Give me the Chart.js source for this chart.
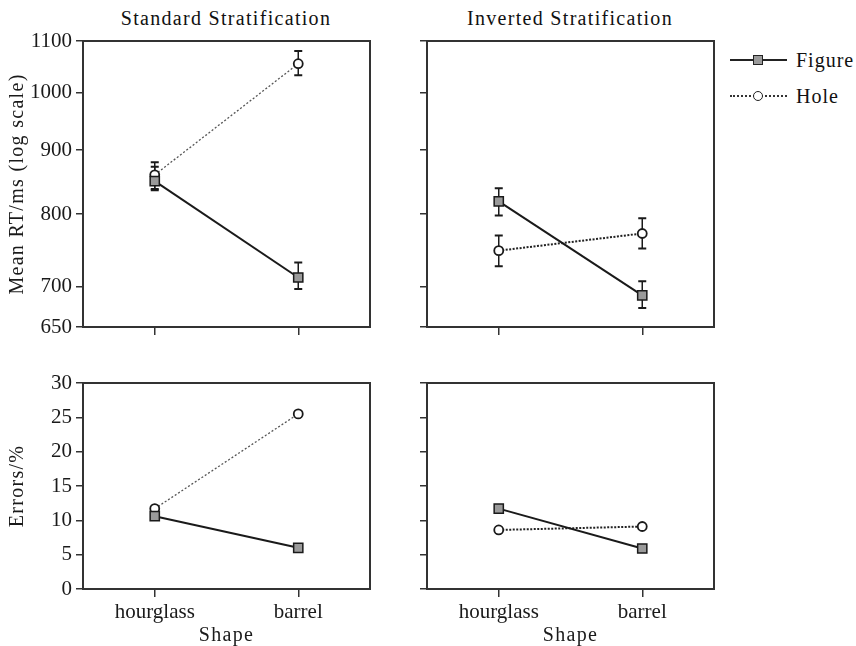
<!DOCTYPE html>
<html>
<head>
<meta charset="utf-8">
<script src="https://cdn.jsdelivr.net/npm/chart.js@4"></script>
<style>
  body { margin: 0; background: #fff; width: 856px; height: 646px; position: relative; overflow: hidden;
         font-family: "Liberation Serif", "Times New Roman", serif; color: #111; }
  canvas { position: absolute; }
  .ttl { position: absolute; font-size: 20px; line-height: 20px; letter-spacing: 1.3px; white-space: nowrap; transform: translateX(-50%); }
  .lg-text { position: absolute; font-size: 20px; line-height: 20px; letter-spacing: 1px; white-space: nowrap; }
  .lg-line { position: absolute; left: 730px; width: 57px; height: 0; }
  .lg-mark { position: absolute; box-sizing: border-box; width: 10px; height: 10px; }
</style>
</head>
<body>
<div class="ttl" style="left:226px; top:8px">Standard Stratification</div>
<div class="ttl" style="left:570px; top:8px">Inverted Stratification</div>
<div id="legend"></div>

<canvas id="rt-std" width="420" height="345" style="left:0; top:0"></canvas>
<canvas id="rt-inv" width="340" height="345" style="left:400px; top:0"></canvas>
<canvas id="err-std" width="420" height="286" style="left:0; top:360px"></canvas>
<canvas id="err-inv" width="340" height="286" style="left:400px; top:360px"></canvas>

<script>
const shapes = ['hourglass', 'barrel'];
const seriesNames = ['Figure', 'Hole'];
const rtTicks = [650, 700, 800, 900, 1000, 1100];

// mean RT in ms, with the ends of the error bars
const stdFigureRT = [850, 712];
const stdFigureRTLow = [838, 697];
const stdFigureRTHigh = [873, 732];
const stdHoleRT = [860, 1055];
const stdHoleRTLow = [836, 1033];
const stdHoleRTHigh = [880, 1080];

const invFigureRT = [819, 689];
const invFigureRTLow = [798, 673];
const invFigureRTHigh = [839, 707];
const invHoleRT = [748, 772];
const invHoleRTLow = [727, 751];
const invHoleRTHigh = [769, 794];

// errors in %
const stdFigureErr = [10.6, 6.0];
const stdHoleErr = [11.7, 25.5];
const invFigureErr = [11.7, 5.9];
const invHoleErr = [8.6, 9.1];

const INK = '#1a1a1a';
const FAMILY = '"Liberation Serif", "Times New Roman", serif';
const TICK_FONT = { family: FAMILY, size: 21 };
const TITLE_FONT = { family: FAMILY, size: 20, lineHeight: 1 };

function figureSet(data, low, high) {
  return {
    label: seriesNames[0], data, errLow: low, errHigh: high,
    borderColor: INK, borderWidth: 2,
    pointStyle: 'rect', pointRadius: 6.5, pointBackgroundColor: '#9a9a9a',
    pointBorderColor: INK, pointBorderWidth: 1.5
  };
}

// the hole line is a fine grey dotted line on the left panels, a heavier one on the right
function holeSet(data, low, high, heavy) {
  return {
    label: seriesNames[1], data, errLow: low, errHigh: high,
    borderColor: heavy ? '#222' : '#555', borderWidth: heavy ? 2 : 1.3,
    borderDash: heavy ? [2, 1.5] : [2, 2],
    pointStyle: 'circle', pointRadius: 4.5, pointBackgroundColor: '#fff',
    pointBorderColor: INK, pointBorderWidth: 1.8
  };
}

// error bars with caps, drawn under the markers
const errorBars = {
  id: 'errorBars',
  beforeDatasetsDraw(chart) {
    const { ctx, scales: { x, y } } = chart;
    ctx.save();
    ctx.strokeStyle = INK;
    chart.data.datasets.forEach(ds => {
      if (!ds.errLow) return;
      ds.data.forEach((v, j) => {
        const px = x.getPixelForValue(j);
        const lo = y.getPixelForValue(ds.errLow[j]);
        const hi = y.getPixelForValue(ds.errHigh[j]);
        ctx.lineWidth = 1.5;
        ctx.beginPath(); ctx.moveTo(px, lo); ctx.lineTo(px, hi); ctx.stroke();
        ctx.lineWidth = 2;
        ctx.beginPath();
        ctx.moveTo(px - 4, lo); ctx.lineTo(px + 4, lo);
        ctx.moveTo(px - 4, hi); ctx.lineTo(px + 4, hi);
        ctx.stroke();
      });
    });
    ctx.restore();
  }
};

// closed box round the plot area
const frame = {
  id: 'frame',
  afterDatasetsDraw(chart) {
    const { ctx, chartArea: a } = chart;
    ctx.save();
    ctx.strokeStyle = '#333';
    ctx.lineWidth = 2;
    ctx.strokeRect(a.left, a.top, a.right - a.left, a.bottom - a.top);
    ctx.restore();
  }
};

// the axis titles in the figure are slightly letter-spaced
const spacedTitles = {
  id: 'spacedTitles',
  afterLayout(chart) {
    Object.values(chart.scales).forEach(s => {
      if (s._spaced) return;
      const orig = s.drawTitle;
      s.drawTitle = function () {
        const prev = this.ctx.letterSpacing;
        this.ctx.letterSpacing = '1.3px';
        orig.call(this);
        this.ctx.letterSpacing = prev || '0px';
      };
      s._spaced = true;
    });
  }
};

function rtAxis(showLabels, width) {
  return {
    type: 'logarithmic', min: 650, max: 1100,
    afterBuildTicks: s => { s.ticks = rtTicks.map(v => ({ value: v })); },
    ticks: { autoSkip: false, font: TICK_FONT, color: INK, padding: 4, callback: v => showLabels ? String(v) : '' },
    grid: { drawOnChartArea: false, tickLength: 7, color: '#333', lineWidth: 1.5 },
    border: { display: false },
    title: { display: showLabels, text: 'Mean RT/ms (log scale)', font: TITLE_FONT, color: INK, padding: { top: 8, bottom: 0 } },
    afterFit: s => { s.width = width; }
  };
}

function errAxis(showLabels, width) {
  return {
    type: 'linear', min: 0, max: 30,
    ticks: { stepSize: 5, font: TICK_FONT, color: INK, padding: 4, callback: v => showLabels ? String(v) : '' },
    grid: { drawOnChartArea: false, tickLength: 7, color: '#333', lineWidth: 1.5 },
    border: { display: false },
    title: { display: showLabels, text: 'Errors/%', font: TITLE_FONT, color: INK, padding: { top: 8, bottom: 0 } },
    afterFit: s => { s.width = width; }
  };
}

function shapeAxis(showLabels, height) {
  return {
    type: 'category', offset: true,
    ticks: { display: showLabels, font: TICK_FONT, color: INK, padding: 3 },
    grid: { drawOnChartArea: false, tickLength: 8, color: '#333', lineWidth: 1.5, offset: false },
    border: { display: false },
    title: { display: showLabels, text: 'Shape', font: TITLE_FONT, color: INK, padding: 0 },
    afterFit: s => { s.height = height; }
  };
}

function panel(id, datasets, yScale, xScale, padding) {
  return new Chart(document.getElementById(id), {
    type: 'line',
    data: { labels: shapes, datasets },
    options: {
      responsive: false,
      animation: false,
      layout: { padding },
      plugins: { legend: { display: false }, tooltip: { enabled: false } },
      scales: { x: xScale, y: yScale }
    },
    plugins: [errorBars, frame, spacedTitles]
  });
}

panel('rt-std',
  [figureSet(stdFigureRT, stdFigureRTLow, stdFigureRTHigh), holeSet(stdHoleRT, stdHoleRTLow, stdHoleRTHigh, false)],
  rtAxis(true, 83), shapeAxis(false, 18), { top: 41, right: 50, left: 0, bottom: 0 });

panel('rt-inv',
  [figureSet(invFigureRT, invFigureRTLow, invFigureRTHigh), holeSet(invHoleRT, invHoleRTLow, invHoleRTHigh, true)],
  rtAxis(false, 27), shapeAxis(false, 18), { top: 41, right: 26, left: 0, bottom: 0 });

panel('err-std',
  [figureSet(stdFigureErr), holeSet(stdHoleErr, null, null, false)],
  errAxis(true, 83), shapeAxis(true, 57), { top: 23, right: 50, left: 0, bottom: 0 });

panel('err-inv',
  [figureSet(invFigureErr), holeSet(invHoleErr, null, null, true)],
  errAxis(false, 27), shapeAxis(true, 57), { top: 23, right: 26, left: 0, bottom: 0 });

// legend: line with marker, then the series name
const legend = document.getElementById('legend');
const legendRows = [
  { y: 60, line: '2px solid #222', mark: 'background:#9a9a9a; border:1.5px solid #222;' },
  { y: 96, line: '2px dotted #333', mark: 'background:#fff; border:1.8px solid #222; border-radius:50%;' }
];
seriesNames.forEach((name, i) => {
  const r = legendRows[i];
  legend.insertAdjacentHTML('beforeend',
    `<div class="lg-line" style="top:${r.y - 1}px; border-top:${r.line}"></div>` +
    `<div class="lg-mark" style="left:753px; top:${r.y - 5}px; ${r.mark}"></div>` +
    `<div class="lg-text" style="left:796px; top:${r.y - 10}px">${name}</div>`);
});
</script>
</body>
</html>
